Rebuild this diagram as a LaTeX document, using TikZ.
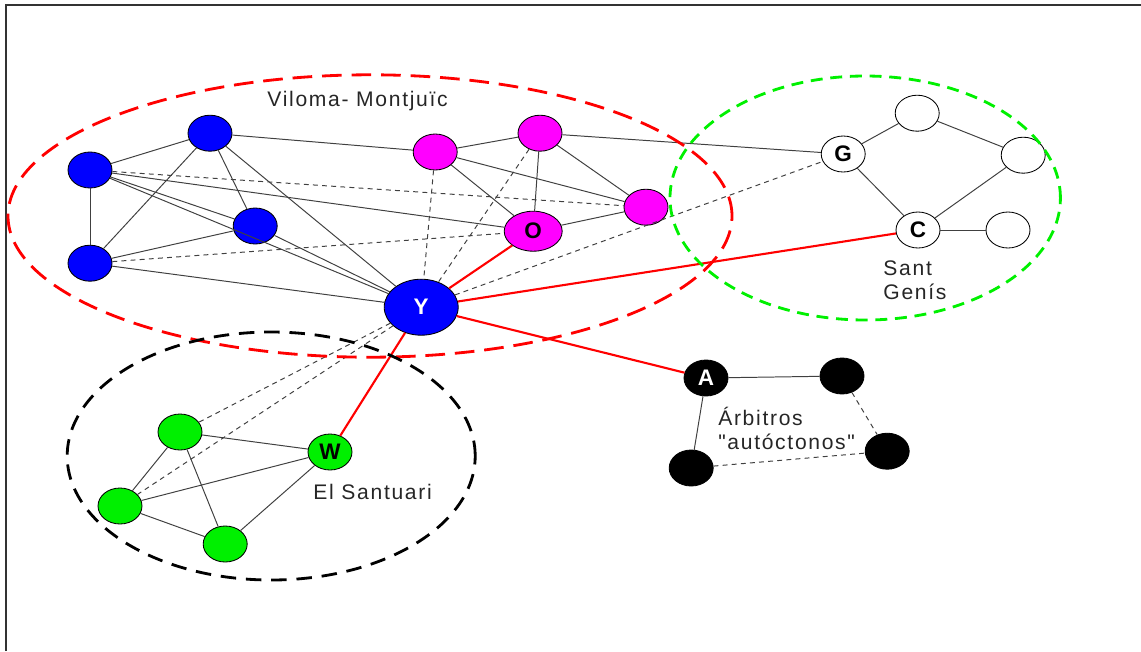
\documentclass[tikz,border=0pt]{standalone}
\usepackage{fontspec}
\setmainfont{Liberation Sans}[LetterSpace=8, Ligatures=TeXOff]
\usetikzlibrary{shapes.geometric}
\definecolor{pinkvert}{RGB}{255,0,255}
\definecolor{limevert}{RGB}{0,240,0}
\begin{document}
\begin{tikzpicture}[
        vert/.style = {ellipse, draw=black, line width=0.6pt, minimum width=1.1cm, minimum height=0.9cm, inner sep=0pt, font=\fontsize{16}{16}\selectfont\bfseries},
        bigvert/.style = {minimum width=1.85cm, minimum height=1.4cm},
        tie/.style = {draw=black!75, line width=0.7pt},
        weak/.style = {draw=black!75, line width=0.7pt, dash pattern=on 3.5pt off 3pt},
        link/.style = {draw=red, line width=1.5pt},
        caption/.style = {anchor=west, inner sep=0pt, text=black!85, font=\fontsize{15}{17}\selectfont, align=left}
    ]
        \useasboundingbox (0,0) rectangle (28.525,-16.275);
        \draw [line width=1.4pt, color=black!80] (0.14,-16.275) -- (0.14,-0.12) -- (28.525,-0.12);
        % Viloma - Montjuic
        \node [vert, fill=blue] (b1) at (2.25,-4.25) {};
        \node [vert, fill=blue] (b2) at (5.25,-3.33) {};
        \node [vert, fill=blue] (b3) at (6.38,-5.65) {};
        \node [vert, fill=blue] (b4) at (2.25,-6.58) {};
        \node [vert, bigvert, fill=blue, text=white] (y) at (10.53,-7.68) {Y};
        \node [vert, fill=pinkvert] (m1) at (10.88,-3.80) {};
        \node [vert, fill=pinkvert] (m2) at (13.50,-3.33) {};
        \node [vert, fill=pinkvert, minimum width=1.45cm, minimum height=1.0cm] (o) at (13.33,-5.78) {O};
        \node [vert, fill=pinkvert] (m3) at (16.15,-5.18) {};
        % Sant Genis
        \node [vert, fill=white] (g) at (21.08,-3.85) {G};
        \node [vert, fill=white] (s1) at (22.93,-2.83) {};
        \node [vert, fill=white] (s2) at (25.58,-3.88) {};
        \node [vert, fill=white] (c) at (22.95,-5.75) {C};
        \node [vert, fill=white] (s3) at (25.20,-5.75) {};
        % arbitros
        \node [vert, fill=black, text=white] (a) at (17.65,-9.45) {A};
        \node [vert, fill=black] (k1) at (21.05,-9.40) {};
        \node [vert, fill=black] (k2) at (22.18,-11.28) {};
        \node [vert, fill=black] (k3) at (17.28,-11.70) {};
        % El Santuari
        \node [vert, fill=limevert] (e1) at (4.50,-10.80) {};
        \node [vert, fill=limevert] (w) at (8.25,-11.30) {W};
        \node [vert, fill=limevert] (e2) at (3.00,-12.65) {};
        \node [vert, fill=limevert] (e3) at (5.63,-13.60) {};
        % solid ties
        \draw [tie] (b1) -- (b2);
        \draw [tie] (b1) -- (b4);
        \draw [tie] (b2) -- (b4);
        \draw [tie] (b2) -- (b3);
        \draw [tie] (b2) -- (y);
        \draw [tie] (b1) -- (b3);
        \draw [tie] (b1) -- (y);
        \draw [tie] (b3) -- (y);
        \draw [tie] (b4) -- (b3);
        \draw [tie] (b4) -- (y);
        \draw [tie] (b1) -- (o);
        \draw [tie] (b2) -- (m1);
        \draw [tie] (m1) -- (m2);
        \draw [tie] (m1) -- (m3);
        \draw [tie] (m1) -- (o);
        \draw [tie] (m2) -- (o);
        \draw [tie] (m2) -- (m3);
        \draw [tie] (o) -- (m3);
        \draw [tie] (m2) -- (g);
        \draw [tie] (g) -- (s1);
        \draw [tie] (s1) -- (s2);
        \draw [tie] (s2) -- (c);
        \draw [tie] (g) -- (c);
        \draw [tie] (c) -- (s3);
        \draw [tie] (a) -- (k1);
        \draw [tie] (a) -- (k3);
        \draw [tie] (e1) -- (e2);
        \draw [tie] (e1) -- (w);
        \draw [tie] (e1) -- (e3);
        \draw [tie] (e2) -- (w);
        \draw [tie] (e2) -- (e3);
        \draw [tie] (e3) -- (w);
        % dashed ties
        \draw [weak] (b1) -- (m3);
        \draw [weak] (b4) -- (o);
        \draw [weak] (m1) -- (y);
        \draw [weak] (m2) -- (y);
        \draw [weak] (y) -- (g);
        \draw [weak] (y) -- (e1);
        \draw [weak] (y) -- (e2);
        \draw [weak] (k1) -- (k2);
        \draw [weak] (k3) -- (k2);
        % red links
        \draw [link] (y) -- (o);
        \draw [link] (y) -- (c);
        \draw [link] (y) -- (a);
        \draw [link] (y) -- (w);
        % groups
        \draw [red, line width=2pt, dash pattern=on 14pt off 7pt] (9.25,-5.40) ellipse (9.05cm and 3.53cm);
        \draw [limevert, line width=2pt, dash pattern=on 8.5pt off 5.5pt] (21.63,-4.95) ellipse (4.88cm and 3.05cm);
        \draw [black, line width=2pt, dash pattern=on 11pt off 7pt] (6.78,-11.40) ellipse (5.10cm and 3.10cm);
        \node [caption] (vm) at (6.68,-2.53) {Viloma- Montjuïc};
        \node [caption] (sg) at (22.08,-7.0) {Sant\\Genís};
        \node [caption] (es) at (7.83,-12.30) {El Santuari};
        \node [caption] (ar) at (17.95,-10.7) {Árbitros\\"autóctonos"};
    \end{tikzpicture}
\end{document}
